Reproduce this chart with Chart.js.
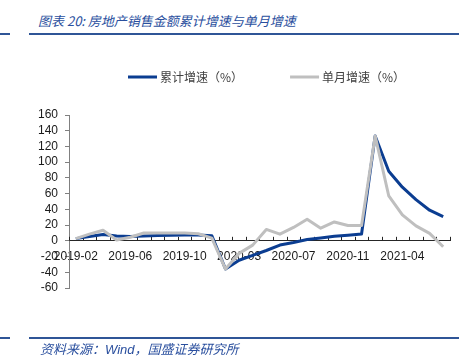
<!DOCTYPE html>
<html lang="zh">
<head>
<meta charset="UTF-8">
<title>房地产销售金额累计增速与单月增速</title>
<style>
  html, body { margin: 0; padding: 0; background: #fff; }
  #page { position: relative; width: 474px; height: 364px; overflow: hidden; }
  #chart { position: absolute; left: 0; top: 0; }
  .rule { position: absolute; height: 2px; background: #2F5597; }
  .caption { position: absolute; color: #2A4F9E; font-family: "Noto Sans CJK SC"; font-style: italic; white-space: nowrap; }
</style>
</head>
<body>
<div id="page">
  <div class="caption" style="left:38px;top:11px;font-size:13px;">图表 20: 房地产销售金额累计增速与单月增速</div>
  <div class="rule" style="left:0;top:33px;width:10px;"></div>
  <div class="rule" style="left:29px;top:33px;width:430px;"></div>
  <canvas id="chart" width="474" height="364"></canvas>
  <div class="rule" style="left:0;top:337px;width:10px;"></div>
  <div class="rule" style="left:29px;top:337px;width:430px;"></div>
  <div class="caption" style="left:40px;top:339px;font-size:13px;">资料来源：<span style="font-family:'Liberation Sans'">Wind</span>，国盛证券研究所</div>
</div>
<script src="https://cdn.jsdelivr.net/npm/chart.js"></script>
<script>
// months (no January release, Jan-Feb combined)
const months = [
  '2019-02', '2019-03', '2019-04', '2019-05', '2019-06', '2019-07', '2019-08', '2019-09', '2019-10', '2019-11', '2019-12',
  '2020-02', '2020-03', '2020-04', '2020-05', '2020-06', '2020-07', '2020-08', '2020-09', '2020-10', '2020-11', '2020-12',
  '2021-02', '2021-03', '2021-04', '2021-05', '2021-06', '2021-07'
];
const cumulative = [
  2.8, 5.6, 8.1, 6.1, 5.6, 6.2, 6.7, 7.1, 7.3, 7.3, 6.5,
  -35.9, -24.7, -18.6, -12.3, -5.4, -2.1, 1.6, 3.7, 5.8, 7.2, 8.7,
  133.4, 88.5, 68.2, 52.4, 38.9, 30.7
];
const monthly = [
  2.8, 8.5, 13.5, 1, 4.5, 10, 10, 10, 10, 9, 3.5,
  -35.9, -16, -5.5, 14.5, 8.5, 17, 27.5, 16, 24, 19.5, 19.5,
  133.4, 57, 33, 19, 9.5, -7.5
];
const yMin = -60, yMax = 160, yStep = 20;
const labelEvery = 4;

// small tick marks between categories, pointing up from the zero line
const categoryTicks = {
  id: 'categoryTicks',
  beforeDatasetsDraw(chart) {
    const xs = chart.scales.x, ys = chart.scales.y;
    const y0 = ys.getPixelForValue(0);
    const step = xs.getPixelForValue(1) - xs.getPixelForValue(0);
    const ctx = chart.ctx;
    ctx.save();
    ctx.strokeStyle = '#262626';
    ctx.lineWidth = 1;
    ctx.beginPath();
    for (let i = 0; i <= months.length; i++) {
      const px = Math.round(xs.getPixelForValue(0) + (i - 0.5) * step) + 0.5;
      ctx.moveTo(px, y0);
      ctx.lineTo(px, y0 - 4);
    }
    ctx.stroke();
    ctx.restore();
  }
};

// legend drawn as short lines + labels
const lineLegend = {
  id: 'lineLegend',
  afterDraw(chart) {
    const ctx = chart.ctx;
    ctx.save();
    ctx.font = '12px "Noto Sans CJK SC"';
    ctx.textBaseline = 'middle';
    let x = 128;
    const y = 77;
    chart.data.datasets.forEach(ds => {
      ctx.strokeStyle = ds.borderColor;
      ctx.lineWidth = 3;
      ctx.beginPath();
      ctx.moveTo(x, y);
      ctx.lineTo(x + 29, y);
      ctx.stroke();
      ctx.fillStyle = '#404040';
      ctx.fillText(ds.label, x + 32, y);
      x += 32 + ctx.measureText(ds.label).width + 47;
    });
    ctx.restore();
  }
};

new Chart(document.getElementById('chart'), {
  type: 'line',
  data: {
    labels: months,
    datasets: [
      { label: '累计增速（%）', data: cumulative, borderColor: '#0B3D91', borderWidth: 3, order: 1 },
      { label: '单月增速（%）', data: monthly, borderColor: '#BFBFBF', borderWidth: 3, order: 0 }
    ]
  },
  options: {
    responsive: false,
    animation: false,
    devicePixelRatio: 1,
    layout: { padding: { left: 0, right: 24, top: 115, bottom: 76 } },
    elements: {
      point: { radius: 0 },
      line: { tension: 0, borderJoinStyle: 'round', fill: false }
    },
    plugins: { legend: { display: false }, tooltip: { enabled: false } },
    scales: {
      x: {
        position: { y: 0 },
        offset: true,
        grid: { display: true, drawOnChartArea: false, drawTicks: false, offset: true },
        border: { display: true, color: '#262626', width: 1 },
        ticks: {
          autoSkip: false,
          maxRotation: 0,
          padding: 9,
          color: '#1a1a1a',
          font: { family: 'Liberation Sans', size: 12 },
          callback: (v, i) => (i % labelEvery === 0 ? months[i] : '')
        }
      },
      y: {
        min: yMin,
        max: yMax,
        afterFit(s) { s.width = 69; },
        grid: { drawOnChartArea: false, tickLength: 4, color: '#808080' },
        border: { display: true, color: '#808080', width: 1 },
        ticks: {
          stepSize: yStep,
          autoSkip: false,
          padding: 7,
          color: '#1a1a1a',
          font: { family: 'Liberation Sans', size: 12 }
        }
      }
    }
  },
  plugins: [categoryTicks, lineLegend]
});
</script>
</body>
</html>
